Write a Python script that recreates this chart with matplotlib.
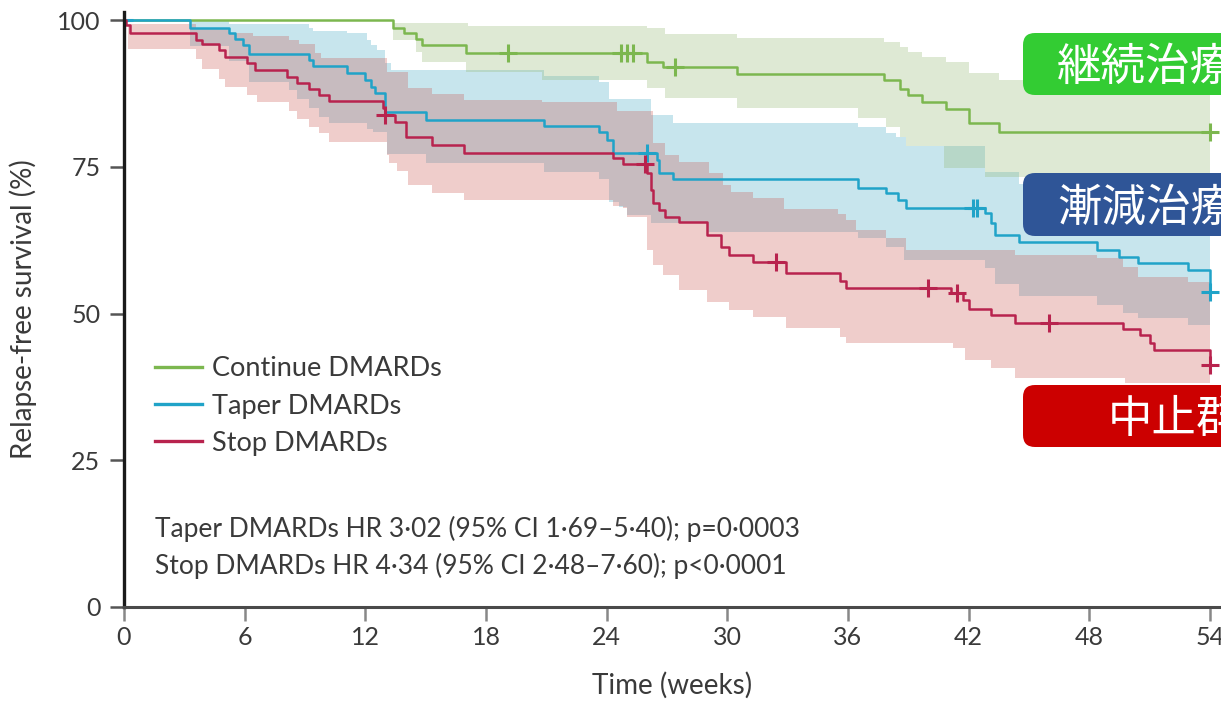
import numpy as np
import matplotlib
matplotlib.use("Agg")
import matplotlib.pyplot as plt
from matplotlib.patches import FancyBboxPatch
from matplotlib.transforms import IdentityTransform

plt.rcParams['font.family'] = ['Lato', 'DejaVu Sans']

# Continue DMARDs
cont_t = [0, 13.4, 13.9, 14.5, 14.8, 17.0, 26.0, 26.8, 30.5, 37.8, 38.6, 39.0, 39.7, 40.9, 42.0, 43.5, 54]
cont_s = [100, 98.6, 97.8, 96.8, 95.7, 94.4, 92.8, 92.0, 90.8, 89.7, 88.2, 87.2, 86.1, 84.8, 82.4, 80.9, 80.9]
cont_cens = [19.1, 24.7, 25.0, 25.3, 27.4, 54]
cont_up_t = [0, 13.4, 17.1, 26.0, 26.9, 30.5, 37.8, 38.6, 39.0, 39.7, 40.9, 42.0, 43.5, 54]
cont_up = [100, 99.5, 99.0, 98.6, 97.7, 96.9, 96.3, 95.4, 94.5, 93.7, 92.8, 91.0, 89.8, 89.8]
cont_lo_t = [0, 13.4, 14.5, 14.8, 17.0, 20.8, 26.0, 26.9, 30.5, 36.5, 37.9, 38.6, 38.9, 40.8, 42.8, 54]
cont_lo = [100, 96.6, 94.5, 92.8, 91.2, 89.8, 88.4, 86.7, 85.0, 83.3, 81.8, 80.1, 78.5, 74.8, 73.2, 73.2]

# Taper DMARDs
taper_t = [0, 3.3, 5.2, 5.5, 5.9, 6.2, 9.2, 9.4, 11.1, 12.0, 12.3, 12.5, 13.0, 15.0, 20.9, 23.6, 24.0, 24.3,
           26.5, 26.6, 27.3, 36.5, 37.9, 38.5, 38.9, 42.8, 43.1, 43.3, 44.5, 48.4, 49.5, 50.4, 52.9, 54]
taper_s = [100, 98.6, 97.8, 96.7, 95.7, 94.2, 93.2, 92.1, 90.9, 89.8, 88.6, 87.6, 84.4, 83.0, 82.0, 80.9, 79.5, 77.4,
           76.2, 73.9, 72.9, 71.4, 70.5, 69.3, 68.0, 67.1, 65.4, 63.4, 62.2, 60.8, 59.6, 58.6, 57.4, 53.7]
taper_cens = [0, 26.0, 42.2, 42.4, 54]
taper_up_t = [0, 5.2, 9.2, 9.4, 11.1, 12.1, 12.3, 12.6, 13.0, 13.3, 20.9, 23.6, 24.1, 26.2, 27.3, 36.5, 37.9,
              38.4, 38.9, 42.8, 44.5, 54]
taper_up = [100, 99.3, 98.6, 98.1, 97.8, 96.6, 95.7, 94.9, 92.7, 91.5, 90.5, 89.4, 86.5, 83.8, 82.5, 81.8, 80.7,
            80.1, 78.5, 74.1, 72.0, 72.0]
taper_lo_t = [0, 3.3, 5.2, 6.2, 8.2, 8.6, 9.2, 9.7, 10.2, 12.1, 12.4, 13.1, 15.0, 20.9, 23.6, 24.1, 24.6, 25.0,
              26.2, 29.0, 36.5, 37.9, 38.8, 42.8, 43.3, 44.5, 48.4, 49.7, 50.4, 52.9, 54]
taper_lo = [100, 95.5, 93.0, 89.4, 88.0, 86.5, 85.0, 83.5, 82.5, 81.5, 80.9, 77.2, 75.6, 74.1, 73.0, 69.0, 68.2, 66.8,
            65.4, 63.9, 62.9, 61.3, 59.1, 57.7, 55.0, 53.0, 51.4, 50.1, 49.2, 48.0, 48.0]

# Stop DMARDs
stop_t = [0, 0.1, 0.3, 3.6, 3.9, 4.7, 5.0, 6.1, 6.5, 8.1, 8.6, 9.2, 9.7, 10.2, 12.9, 13.0, 13.5, 14.0, 15.3, 16.9,
          24.3, 24.8, 26.0, 26.2, 26.3, 26.6, 26.9, 27.6, 29.0, 29.7, 30.1, 31.3, 32.9, 35.6, 35.9, 41.1, 41.7,
          42.0, 43.1, 44.3, 49.7, 50.5, 51.0, 51.2, 54]
stop_s = [100, 99.1, 97.8, 96.6, 95.9, 94.9, 93.7, 92.7, 91.5, 90.3, 89.3, 88.2, 87.2, 86.2, 85.0, 83.8, 82.7, 80.1,
          78.7, 77.4, 76.5, 75.4, 73.9, 71.0, 68.8, 67.6, 66.5, 65.6, 63.4, 61.4, 60.0, 58.8, 56.9, 55.5, 54.3,
          53.5, 52.3, 50.8, 49.7, 48.4, 47.4, 46.3, 45.0, 43.8, 41.2]
stop_cens = [13.0, 25.9, 32.4, 40.0, 41.4, 46.0, 54]
stop_up_t = [0, 0.2, 3.6, 5.2, 6.4, 8.2, 8.7, 9.5, 9.8, 13.1, 14.1, 15.3, 16.9, 20.8, 24.5, 26.3, 26.9, 27.6,
             29.1, 29.8, 30.2, 31.3, 32.8, 35.5, 35.9, 36.4, 37.9, 38.9, 44.3, 48.4, 49.7, 50.4, 52.9, 54]
stop_up = [100, 99.3, 98.6, 97.8, 97.3, 96.6, 95.9, 94.4, 93.5, 91.2, 88.4, 87.4, 86.4, 86.0, 84.5, 79.0, 77.0, 75.8,
           73.9, 71.9, 70.7, 69.6, 67.8, 67.0, 65.9, 64.2, 62.9, 60.8, 60.0, 59.5, 57.9, 56.2, 55.4, 55.4]
stop_lo_t = [0, 0.2, 3.6, 3.9, 4.7, 5.0, 6.1, 6.6, 8.2, 8.6, 9.2, 9.7, 10.2, 13.1, 13.2, 13.6, 14.1, 15.3, 16.9,
             24.3, 24.8, 25.0, 26.0, 26.3, 26.8, 27.6, 29.0, 30.1, 31.3, 32.9, 35.6, 35.9, 41.2, 41.8, 43.1, 44.3,
             49.8, 54]
stop_lo = [100, 95.0, 93.4, 91.7, 89.9, 88.6, 87.2, 86.0, 84.5, 83.1, 81.8, 80.7, 79.2, 77.0, 75.6, 74.3, 71.9, 70.5,
           69.3, 68.4, 68.0, 66.5, 60.8, 58.3, 56.6, 54.0, 52.0, 50.6, 49.4, 47.5, 46.0, 45.0, 44.1, 42.1, 40.7, 39.0,
           38.2, 38.2]

x_ticks = [0, 6, 12, 18, 24, 30, 36, 42, 48, 54]
y_ticks = [0, 25, 50, 75, 100]
labels = ["Continue DMARDs", "Taper DMARDs", "Stop DMARDs"]
hr_lines = ["Taper DMARDs HR 3·02 (95% CI 1·69–5·40); p=0·0003",
            "Stop DMARDs HR 4·34 (95% CI 2·48–7·60); p<0·0001"]
jp_labels = ["継続治療群", "漸減治療群", "中止群"]

GREEN, BLUE, RED = "#7cb74f", "#20a3c8", "#b8234e"
TXT = "#3a3a3a"


def step_at(t, s, x):
    t = np.asarray(t)
    s = np.asarray(s)
    idx = np.searchsorted(t, x, side="right") - 1
    return s[idx]


def band(ax, up_t, up, lo_t, lo, color):
    tt = np.union1d(up_t, lo_t)
    ax.fill_between(tt, step_at(lo_t, lo, tt), step_at(up_t, up, tt),
                    step="post", color=color, alpha=0.3, lw=0)


W, H = 1221, 701
fig = plt.figure(figsize=(W / 100, H / 100), dpi=100)
ax = fig.add_axes([124 / W, 94 / H, 1097 / W, 595.2 / H])

band(ax, taper_up_t, taper_up, taper_lo_t, taper_lo, "#48acc6")
band(ax, cont_up_t, cont_up, cont_lo_t, cont_lo, "#94b973")
band(ax, stop_up_t, stop_up, stop_lo_t, stop_lo, "#ca5c55")

handles = []
for t, s, cens, c in [(cont_t, cont_s, cont_cens, GREEN),
                      (taper_t, taper_s, taper_cens, BLUE),
                      (stop_t, stop_s, stop_cens, RED)]:
    h, = ax.step(t, s, where="post", color=c, lw=1.8)
    ax.plot(cens, step_at(t, s, cens), "+", color=c, ms=13, mew=2.2)
    handles.append(h)

ax.set_xlim(0, 54.55)
ax.set_ylim(0, 101.4)
ax.set_xticks(x_ticks)
ax.set_yticks(y_ticks)
ax.spines[["top", "right"]].set_visible(False)
ax.spines["left"].set_color("#1a1a1a")
ax.spines["left"].set_linewidth(2.4)
ax.spines["bottom"].set_color("#4a4a4a")
ax.spines["bottom"].set_linewidth(2.2)
ax.tick_params(axis="x", length=10, width=1.8, color="#888888", pad=4, labelsize=18, labelcolor=TXT)
ax.tick_params(axis="y", length=10, width=1.8, color="#555555", pad=7, labelsize=18, labelcolor=TXT)
ax.set_xlabel("Time (weeks)", fontsize=20, color=TXT, labelpad=16)
ax.set_ylabel("Relapse-free survival (%)", fontsize=20, color=TXT)
ax.yaxis.set_label_coords(-0.079, 0.5)

leg = ax.legend(handles, labels, loc="upper left", bbox_to_anchor=(0.028, 0.421), frameon=False,
                fontsize=19.5, labelcolor=TXT, handlelength=1.75, handletextpad=0.35,
                labelspacing=0.45, borderpad=0, borderaxespad=0)
for ln in leg.get_lines():
    ln.set_linewidth(2.4)

ax.text(0.0283, 0.1176, hr_lines[0], transform=ax.transAxes, fontsize=19, color=TXT, va="baseline")
ax.text(0.0283, 0.0554, hr_lines[1], transform=ax.transAxes, fontsize=19, color=TXT, va="baseline")

# Japanese group labels in rounded boxes (run off the right edge)
for (top, bot, tx, col), lab in zip([(33, 95, 1057, "#33cc33"), (173, 236, 1057, "#2f5597"),
                                     (385, 447, 1108, "#cc0000")], jp_labels):
    box = FancyBboxPatch((1023, H - bot), 320, bot - top,
                         boxstyle="round,pad=0,rounding_size=12",
                         transform=IdentityTransform(), facecolor=col, edgecolor="none")
    fig.add_artist(box)
    fig.text(tx / W, 1 - ((top + bot) / 2 + 3) / H, lab, color="white", fontsize=32,
             family=["Noto Sans CJK JP", "DejaVu Sans"], va="center", ha="left")

fig.savefig("out.png", dpi=100)
